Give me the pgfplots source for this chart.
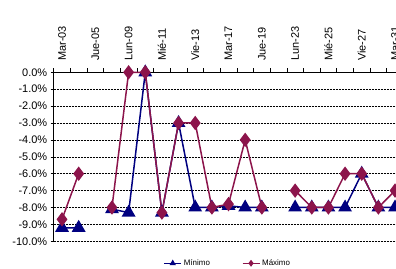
\documentclass[border=0pt]{standalone}
\usepackage{pgfplots}
\pgfplotsset{compat=1.18}
\usepackage{fontspec}
\setmainfont{Liberation Sans}
\definecolor{minc}{RGB}{0,0,128}
\definecolor{maxc}{RGB}{140,20,75}
\begin{document}
\begin{tikzpicture}
\begin{axis}[
  x=16.65bp, y=16.9bp,
  xmin=-0.5, xmax=20.5, ymin=-10, ymax=0,
  axis x line=top, axis y line=left,
  axis line style={black, line width=0.8pt, -},
  clip=false,
  xtick={0,2,...,20},
  xticklabels={Mar-03,Jue-05,Lun-09,Mié-11,Vie-13,Mar-17,Jue-19,Lun-23,Mié-25,Vie-27,Mar-31},
  major x tick style={draw=none},
  minor xtick={-0.5,0.5,...,20.5},
  minor x tick style={black, line width=0.6pt},
  minor tick length=4bp,
  xtick align=outside,
  xticklabel style={rotate=90, anchor=west, font=\fontsize{11}{13}\selectfont},
  xticklabel shift=5bp,
  ytick={-10,-9,...,0},
  yticklabels={-10.0\%,-9.0\%,-8.0\%,-7.0\%,-6.0\%,-5.0\%,-4.0\%,-3.0\%,-2.0\%,-1.0\%,0.0\%},
  yticklabel style={font=\fontsize{11}{13}\selectfont},
  ytick align=outside,
  major y tick style={black, line width=0.6pt},
  major tick length=3bp,
  ymajorgrids,
  grid style={black, line width=0.6pt, dash pattern=on 2bp off 1bp},
  unbounded coords=jump,
  legend style={at={(0.498,-0.13)}, anchor=center, draw=none, fill=none,
    legend columns=2, font=\fontsize{8}{10}\selectfont,
    /tikz/every even column/.append style={column sep=30bp}},
  legend cell align=left,
]
\addplot[minc, line width=1.5bp, mark=triangle*, mark size=6.5bp, mark options={solid},
  legend image post style={mark size=2.5bp, line width=1.2bp}] table[x=i,y=v] {
i v
0 -9.2
1 -9.2
2 nan
3 -8.1
4 -8.3
5 0.0
6 -8.3
7 -3.0
8 -8.0
9 -8.0
10 -7.9
11 -8.0
12 -8.0
13 nan
14 -8.0
15 -8.0
16 -8.0
17 -8.0
18 -6.0
19 -8.0
20 -8.0
};
\addlegendentry{Mínimo}
\addplot[maxc, line width=1.5bp, mark=diamond*, mark size=6bp, mark options={solid},
  legend image post style={mark size=2.5bp, line width=1.2bp}] table[x=i,y=v] {
i v
0 -8.7
1 -6.0
2 nan
3 -8.0
4 0.0
5 0.0
6 -8.3
7 -3.0
8 -3.0
9 -8.0
10 -7.8
11 -4.0
12 -8.0
13 nan
14 -7.0
15 -8.0
16 -8.0
17 -6.0
18 -6.0
19 -8.0
20 -7.0
};
\addlegendentry{Máximo}
\coordinate (tl) at (axis cs:-0.5,0);
\end{axis}
\pgfresetboundingbox
\useasboundingbox ([shift={(-53.7bp,72.3bp)}]tl) rectangle ([shift={(342.3bp,-196.7bp)}]tl);
\end{tikzpicture}
\end{document}
